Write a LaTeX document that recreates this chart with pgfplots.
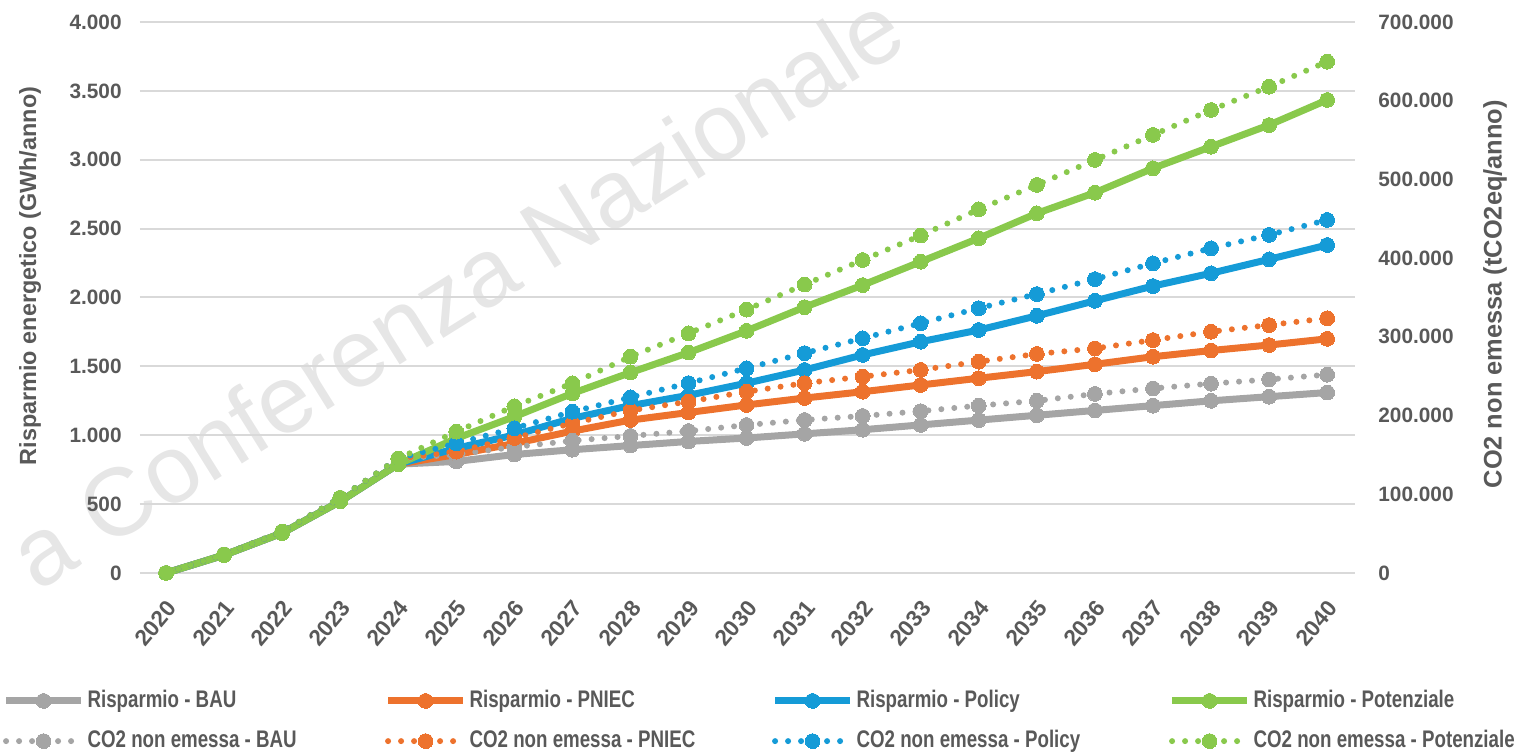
\documentclass[border=0pt]{standalone}
\usepackage{fontspec}
\setmainfont{Liberation Sans}
\newfontfamily\narrowfont{Liberation Sans}[FakeStretch=0.78]
\usepackage{pgfplots}
\usepackage{pgfplotstable}
\pgfplotsset{compat=1.18}
\definecolor{cgray}{RGB}{165,165,165}
\definecolor{corange}{RGB}{237,114,45}
\definecolor{cblue}{RGB}{21,155,215}
\definecolor{cgreen}{RGB}{137,201,76}
\definecolor{gridc}{RGB}{217,217,217}
\definecolor{tickc}{RGB}{89,89,89}
\definecolor{wm}{RGB}{230,230,230}

\pgfplotstableread{
year bau pniec policy pot
2020 0 0 0 0
2021 130 130 130 130
2022 290 290 290 290
2023 520 520 520 520
2024 790 790 790 790
2025 810 860 905 977
2026 860 940 1002 1135
2027 895 1030 1123 1304
2028 925 1110 1215 1455
2029 955 1165 1290 1600
2030 980 1220 1378 1758
2031 1010 1270 1474 1930
2032 1040 1316 1583 2090
2033 1075 1365 1679 2260
2034 1110 1414 1764 2430
2035 1145 1462 1867 2611
2036 1180 1515 1976 2761
2037 1215 1570 2083 2938
2038 1250 1615 2176 3095
2039 1280 1655 2277 3252
2040 1310 1700 2381 3434
}\risparmio

\pgfplotstableread{
year bau pniec policy pot
2020 0 0 0 0
2021 23600 23600 23600 23600
2022 52500 52500 52500 52500
2023 95400 95400 95400 95400
2024 145300 145300 145300 145300
2025 150500 154200 164700 179600
2026 160100 171500 183800 211800
2027 168000 190200 204900 241000
2028 174100 206500 223100 274800
2029 180300 217700 241200 304500
2030 188000 230300 260100 334600
2031 194400 241200 279300 366500
2032 199500 249400 298200 397600
2033 205600 258000 317300 428800
2034 212600 268500 336400 462000
2035 218800 278300 354400 493000
2036 227500 285300 373300 524700
2037 234500 295900 393400 556500
2038 240600 306600 412500 588200
2039 245900 315000 429500 617800
2040 252000 323600 448500 649600
}\cotwo

\pgfplotsset{
  ris/.style={line width=3.5pt, mark=*, mark size=3.7pt, #1, mark options={solid, fill=#1, draw=#1, line width=0pt}},
  co/.style={line width=3pt, line cap=round, dash pattern=on 0pt off 6.5pt, mark=*, mark size=3.7pt, #1, mark options={solid, fill=#1, draw=#1, line width=0pt}},
  common/.style={
    scale only axis, width=607.5pt, height=275.5pt,
    xmin=2019.552, xmax=2040.48,
    axis line style={draw=none}, major tick length=0pt,
    scaled y ticks=false,
    clip=false,
  },
  legend image code/.code={\draw[mark repeat=2,mark phase=2,#1] plot coordinates {(0pt,0pt) (18.75pt,0pt) (37.5pt,0pt)};},
}

\begin{document}
\begin{tikzpicture}
\path[use as bounding box] (-70pt,-90pt) rectangle (689.5pt,286.5pt);
\node[rotate=32, text=wm, font=\fontsize{48}{50}\selectfont] at (158pt,141.5pt) {a Conferenza Nazionale};

\begin{axis}[common,
  ymin=0, ymax=4000, ytick={0,500,...,4000},
  xtick={2020,...,2040},
  ymajorgrids, grid style={line width=1pt, gridc},
  yticklabel={\pgfmathprintnumber[fixed,precision=0,1000 sep={.},assume math mode=true]{\tick}},
  xticklabel={\pgfmathprintnumber[fixed,precision=0,1000 sep={},assume math mode=true]{\tick}},
  yticklabel style={font=\fontsize{10.4}{12}\selectfont\bfseries, text=tickc, inner sep=0pt, xshift=-9pt},
  xticklabel style={font=\fontsize{11.3}{12}\selectfont\bfseries, text=tickc, inner sep=0pt, xshift=3pt, yshift=-15.5pt, rotate=50, anchor=east},
  ylabel={Risparmio energetico (GWh/anno)},
  ylabel style={at={(axis description cs:-0.0905,0.539)}, anchor=center, font=\fontsize{11.7}{13}\selectfont\bfseries, text=tickc},
]
\addplot[ris=cgray] table[x=year,y=bau] {\risparmio};
\addplot[ris=corange] table[x=year,y=pniec] {\risparmio};
\addplot[ris=cblue] table[x=year,y=policy] {\risparmio};
\addplot[ris=cgreen] table[x=year,y=pot] {\risparmio};
\end{axis}

\begin{axis}[common,
  axis x line=none, axis y line*=right,
  ymin=0, ymax=700000, ytick={0,100000,...,700000},
  yticklabel={\pgfmathprintnumber[fixed,precision=0,1000 sep={.},assume math mode=true]{\tick}},
  yticklabel style={font=\fontsize{10.4}{12}\selectfont\bfseries, text=tickc, inner sep=0pt, anchor=west, xshift=11.5pt},
  ylabel={CO2 non emessa (tCO2eq/anno)},
  ylabel style={at={(axis description cs:1.1152,0.506)}, anchor=center, font=\fontsize{12.7}{13}\selectfont\bfseries, text=tickc},
  legend columns=4,
  legend style={at={(axis description cs:-0.1131,-0.212)}, anchor=north west, draw=none, fill=none, inner sep=0pt, outer sep=0pt,
    font=\narrowfont\fontsize{12}{13}\selectfont\bfseries, text=tickc,
    nodes={inner sep=0pt, text height=8.6pt, text depth=2.5pt}, row sep=9pt, column sep=0pt},
]
\addlegendimage{ris=cgray}
\addlegendentry{\hspace{1.5pt}\makebox[148.5pt][l]{Risparmio - BAU}}
\addlegendimage{ris=corange}
\addlegendentry{\hspace{1.5pt}\makebox[151pt][l]{Risparmio - PNIEC}}
\addlegendimage{ris=cblue}
\addlegendentry{\hspace{1.5pt}\makebox[156pt][l]{Risparmio - Policy}}
\addlegendimage{ris=cgreen}
\addlegendentry{\hspace{1.5pt}\makebox[130pt][l]{Risparmio - Potenziale}}
\addplot[co=cgray] table[x=year,y=bau] {\cotwo};
\addlegendentry{\hspace{1.5pt}\makebox[148.5pt][l]{CO2 non emessa - BAU}}
\addplot[co=corange] table[x=year,y=pniec] {\cotwo};
\addlegendentry{\hspace{1.5pt}\makebox[151pt][l]{CO2 non emessa - PNIEC}}
\addplot[co=cblue] table[x=year,y=policy] {\cotwo};
\addlegendentry{\hspace{1.5pt}\makebox[156pt][l]{CO2 non emessa - Policy}}
\addplot[co=cgreen] table[x=year,y=pot] {\cotwo};
\addlegendentry{\hspace{1.5pt}\makebox[130pt][l]{CO2 non emessa - Potenziale}}
\end{axis}
\end{tikzpicture}
\end{document}
